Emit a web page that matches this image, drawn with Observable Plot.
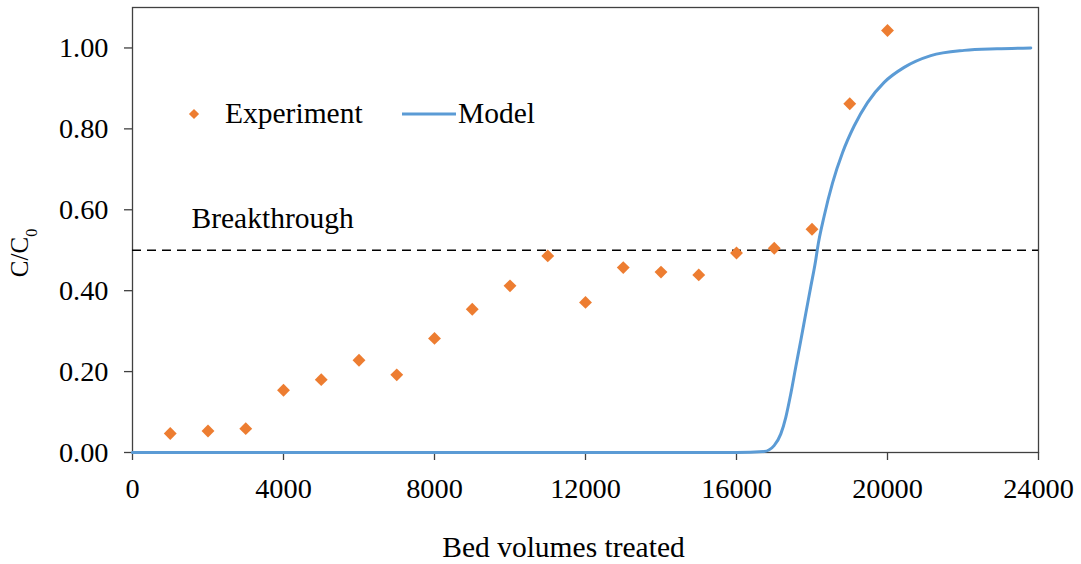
<!DOCTYPE html>
<html><head><meta charset="utf-8">
<script src="https://cdn.jsdelivr.net/npm/d3@7"></script>
<script src="https://cdn.jsdelivr.net/npm/@observablehq/plot@0.6"></script>
<style>
body{margin:0;background:#fff;}
#wrap{position:relative;width:1081px;height:564px;font-family:"Liberation Serif","Times New Roman",serif;}
#legend{position:absolute;left:0;top:0;pointer-events:none;}
</style></head><body><div id="wrap"></div>
<script>
// Experimental data (bed volumes treated, C/C0)
const expX = [1000,2000,3000,4000,5000,6000,7000,8000,9000,10000,11000,12000,13000,14000,15000,16000,17000,18000,19000,20000];
const expY = [0.047,0.053,0.059,0.154,0.180,0.228,0.192,0.282,0.354,0.412,0.486,0.371,0.457,0.446,0.439,0.493,0.505,0.552,0.862,1.043];
// Model curve
const modelX = [0,16000,16731,16996,17174,17306,17438,17571,17703,17836,17968,18101,18146,18321,18543,18808,19116,19470,19911,20441,21147,22030,22900,23796];
const modelY = [0,0,0.0025,0.017,0.046,0.087,0.145,0.212,0.277,0.344,0.410,0.477,0.505,0.584,0.666,0.741,0.807,0.865,0.915,0.952,0.981,0.994,0.998,1.0];
const xTicks = [0,4000,8000,12000,16000,20000,24000];
const yTicks = [0,0.2,0.4,0.6,0.8,1.0];
const breakthroughY = 0.5;
const seriesNames = ["Experiment","Model"];
const seriesColors = ["#ED7D31","#5B9BD5"];
const annotation = "Breakthrough";
const xLabel = "Bed volumes treated";
const yLabel = "C/C0";

const expData = expX.map((x,i)=>({x, y: expY[i]}));
const modelData = modelX.map((x,i)=>({x, y: modelY[i]}));

const axisColor = "#404040";
const labelSize = 29.5;
const chart = Plot.plot({
  width: 1081, height: 564,
  marginLeft: 132, marginRight: 43, marginTop: 7, marginBottom: 112,
  style: {fontFamily: '"Liberation Serif","Times New Roman",serif', background: "#fff", color: "#000"},
  x: {domain: [0, 24000]},
  y: {domain: [0, 1.1]},
  marks: [
    Plot.frame({stroke: axisColor, strokeWidth: 1.3}),
    Plot.axisX({ticks: xTicks, tickFormat: d3.format("d"), tickSize: 8, tickPadding: 17, fontSize: 28.3, stroke: axisColor, strokeWidth: 1.3, label: null, color: "#000"}),
    Plot.axisY({ticks: yTicks, tickFormat: d3.format(".2f"), tickSize: 8, tickPadding: 16, fontSize: 28.3, stroke: axisColor, strokeWidth: 1.3, label: null, color: "#000"}),
    Plot.ruleY([breakthroughY], {stroke: "#000", strokeWidth: 1.3, strokeDasharray: "9,6"}),
    Plot.line(modelData, {x: "x", y: "y", stroke: seriesColors[1], strokeWidth: 3, curve: "monotone-x"}),
    Plot.dot(expData, {x: "x", y: "y", symbol: "diamond2", r: 5.8, fill: seriesColors[0], stroke: "none"}),
    Plot.text([annotation], {y: [breakthroughY], frameAnchor: "left", textAnchor: "start", lineAnchor: "middle", dx: 59, dy: -32, fontSize: labelSize, fill: "#000"}),
    Plot.text([xLabel], {frameAnchor: "bottom", textAnchor: "middle", lineAnchor: "middle", dx: -22, dy: 95, fontSize: labelSize, fill: "#000"}),
    Plot.text([yLabel], {frameAnchor: "left", textAnchor: "middle", lineAnchor: "middle", rotate: -90, dx: -112.5, dy: 23, fontSize: 25, fill: "#000", className: "ylab"})
  ]
});
document.getElementById("wrap").appendChild(chart);

// subscript on the y label
const yl = chart.querySelector(".ylab text");
if (yl) {
  yl.textContent = "";
  yl.appendChild(document.createTextNode("C/C"));
  const ts = document.createElementNS("http://www.w3.org/2000/svg","tspan");
  ts.setAttribute("baseline-shift","sub");
  ts.setAttribute("font-size","16");
  ts.textContent = "0";
  yl.appendChild(ts);
}

// legend overlay
const ns = "http://www.w3.org/2000/svg";
const lg = document.createElementNS(ns, "svg");
lg.setAttribute("id","legend"); lg.setAttribute("width",1081); lg.setAttribute("height",564);
lg.setAttribute("font-family",'"Liberation Serif","Times New Roman",serif');
const d = document.createElementNS(ns,"path");
d.setAttribute("d", d3.symbol(d3.symbolDiamond2, Math.PI*4.6*4.6)());
d.setAttribute("transform","translate(194,114)");
d.setAttribute("fill", seriesColors[0]);
lg.appendChild(d);
const t1 = document.createElementNS(ns,"text");
t1.setAttribute("x",225); t1.setAttribute("y",123); t1.setAttribute("font-size",labelSize); t1.textContent = seriesNames[0];
lg.appendChild(t1);
const ln = document.createElementNS(ns,"line");
ln.setAttribute("x1",402); ln.setAttribute("x2",456); ln.setAttribute("y1",114); ln.setAttribute("y2",114);
ln.setAttribute("stroke", seriesColors[1]); ln.setAttribute("stroke-width",3);
lg.appendChild(ln);
const t2 = document.createElementNS(ns,"text");
t2.setAttribute("x",458); t2.setAttribute("y",123); t2.setAttribute("font-size",labelSize); t2.textContent = seriesNames[1];
lg.appendChild(t2);
document.getElementById("wrap").appendChild(lg);
</script>
</body></html>
